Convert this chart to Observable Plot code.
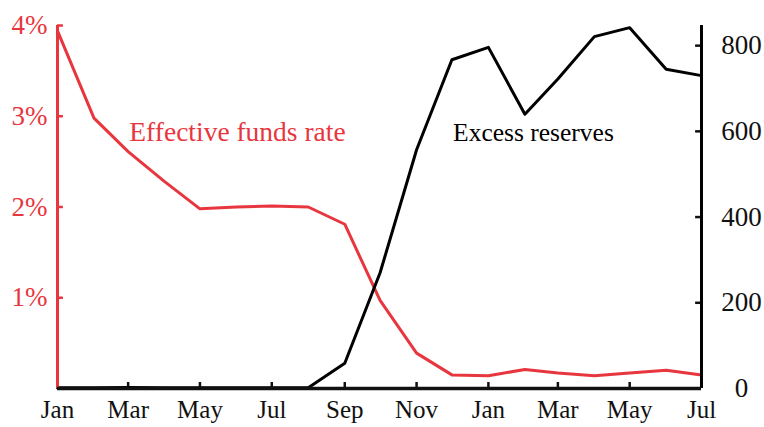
<!DOCTYPE html>
<html><head><meta charset="utf-8">
<script src="https://cdn.jsdelivr.net/npm/d3@7"></script>
<script src="https://cdn.jsdelivr.net/npm/@observablehq/plot@0.6"></script>
<style>body{margin:0;background:#fff}</style>
</head><body><div id="chart"></div><script>
const months = ["2008-01","2008-02","2008-03","2008-04","2008-05","2008-06","2008-07","2008-08","2008-09","2008-10","2008-11","2008-12",
                "2009-01","2009-02","2009-03","2009-04","2009-05","2009-06","2009-07"];
const fundsRate = [3.94, 2.98, 2.61, 2.28, 1.98, 2.00, 2.01, 2.00, 1.81, 0.97, 0.39, 0.15, 0.14, 0.21, 0.17, 0.14, 0.17, 0.20, 0.15];
const excessReserves = [1.6, 1.7, 2.5, 1.8, 1.9, 2.0, 1.9, 1.9, 59, 270, 557, 767, 796, 640, 722, 821, 842, 745, 730];
const rateTicks = [1, 2, 3, 4];
const reserveTicks = [0, 200, 400, 600, 800];
const labelRate = "Effective funds rate";
const labelReserves = "Excess reserves";

const red = "#e8363f";
const k = 4 / 847;
const parse = d3.utcParse("%Y-%m");
const data = months.map((m, i) => ({date: parse(m), rate: fundsRate[i], reserves: excessReserves[i]}));
const x0 = data[0].date, x1 = data[data.length - 1].date;
const xTicks = d3.utcMonth.every(2).range(x0, d3.utcDay.offset(x1, 1));
const inner = xTicks.slice(1, -1);

const chart = Plot.plot({
  width: 764, height: 427,
  marginLeft: 57, marginRight: 63, marginTop: 25, marginBottom: 39,
  style: {fontFamily: "'Liberation Serif', serif", fontSize: "25px", background: "white"},
  x: {type: "utc", domain: [x0, x1]},
  y: {domain: [0, 4]},
  marks: [
    Plot.axisX(xTicks, {label: null, tickSize: 0, tickPadding: 12, tickFormat: d3.utcFormat("%b"), fill: "#111", fontSize: 25}),
    Plot.axisY(rateTicks, {label: null, anchor: "left", tickSize: 0, tickPadding: 10, tickFormat: d => d + "%", fill: red, fontSize: 27}),
    Plot.axisY(reserveTicks.map(v => v * k), {label: null, anchor: "right", tickSize: 0, tickPadding: 40, textAnchor: "middle", tickFormat: d => String(Math.round(d / k)), fill: "#111", fontSize: 27}),
    Plot.ruleY(rateTicks, {x1: x0, x2: d3.utcHour.offset(x0, 120), stroke: red, strokeWidth: 2.5}),
    Plot.ruleY(reserveTicks.map(v => v * k), {x1: d3.utcHour.offset(x1, -120), x2: x1, stroke: "#111", strokeWidth: 2.5}),
    Plot.ruleX(inner, {y1: 0, y2: 0.066, stroke: "#111", strokeWidth: 2.5}),
    Plot.line(data, {x: "date", y: "rate", stroke: red, strokeWidth: 3}),
    Plot.line(data, {x: "date", y: d => d.reserves * k, stroke: "#000", strokeWidth: 3}),
    Plot.ruleX([x0], {y1: 0, y2: 4, stroke: red, strokeWidth: 3}),
    Plot.ruleX([x1], {y1: 0, y2: 4, stroke: "#000", strokeWidth: 3}),
    Plot.ruleY([0], {stroke: "#111", strokeWidth: 3.5}),
    Plot.text([labelRate], {text: d => d, x: () => d3.utcDay.offset(x0, 61), y: () => 2.82, textAnchor: "start", fill: red, fontSize: 27.5}),
    Plot.text([labelReserves], {text: d => d, x: () => d3.utcDay.offset(x0, 336), y: () => 2.82, textAnchor: "start", fill: "#000", fontSize: 25.5})
  ]
});
document.getElementById("chart").append(chart);
</script></body></html>
